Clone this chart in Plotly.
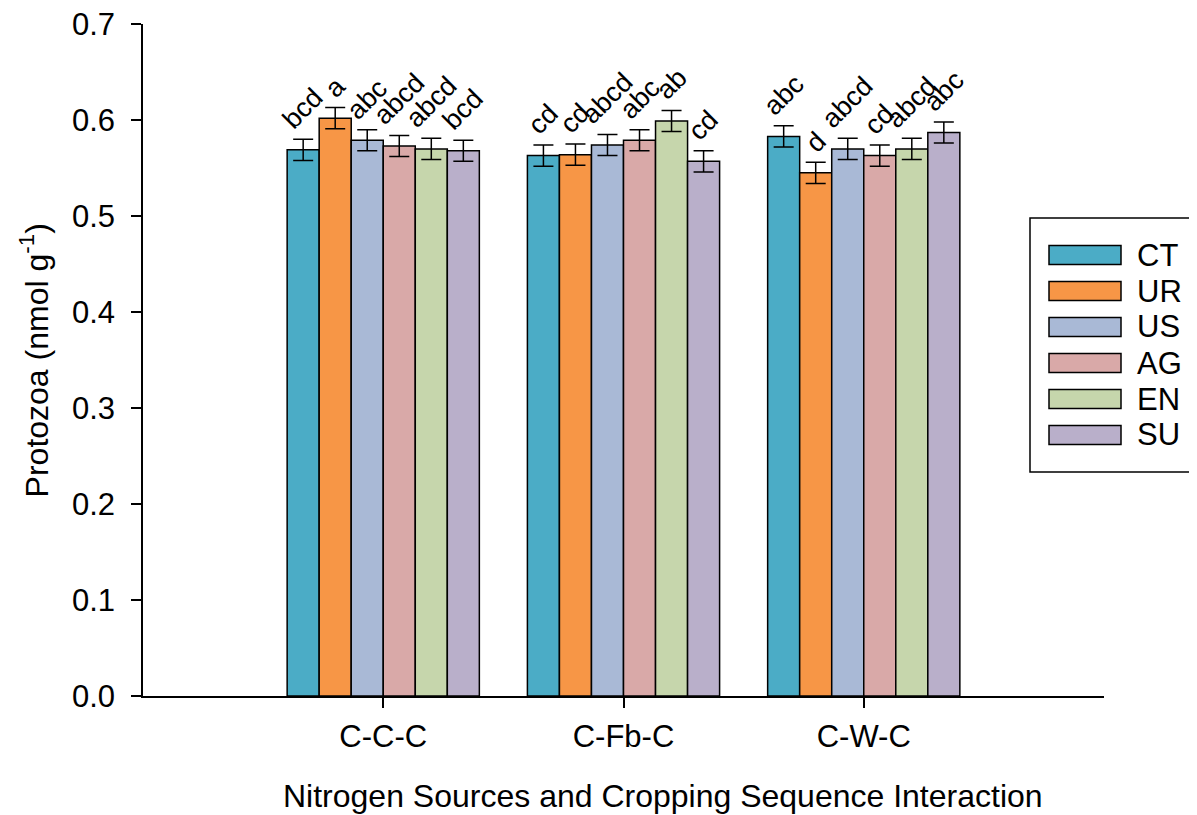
import plotly.graph_objects as go

categories = ["C-C-C", "C-Fb-C", "C-W-C"]
series_names = ["CT", "UR", "US", "AG", "EN", "SU"]
colors = ["#4BACC6", "#F79646", "#A9B9D6", "#D9A9A8", "#C6D6AC", "#B9AFCA"]
y_ticks = [0.0, 0.1, 0.2, 0.3, 0.4, 0.5, 0.6, 0.7]
y_ticktext = ["0.0", "0.1", "0.2", "0.3", "0.4", "0.5", "0.6", "0.7"]

CT = [0.569, 0.563, 0.583]
UR = [0.602, 0.564, 0.545]
US = [0.579, 0.574, 0.570]
AG = [0.573, 0.579, 0.563]
EN = [0.570, 0.599, 0.570]
SU = [0.568, 0.557, 0.587]

CT_err = [0.011, 0.011, 0.011]
UR_err = [0.011, 0.011, 0.011]
US_err = [0.011, 0.011, 0.011]
AG_err = [0.011, 0.011, 0.011]
EN_err = [0.011, 0.011, 0.011]
SU_err = [0.011, 0.011, 0.011]

CT_lbl = ["bcd", "cd", "abc"]
UR_lbl = ["a", "cd", "d"]
US_lbl = ["abc", "abcd", "abcd"]
AG_lbl = ["abcd", "abc", "cd"]
EN_lbl = ["abcd", "ab", "abcd"]
SU_lbl = ["bcd", "cd", "abc"]

values = [CT, UR, US, AG, EN, SU]
errors = [CT_err, UR_err, US_err, AG_err, EN_err, SU_err]
labels = [CT_lbl, UR_lbl, US_lbl, AG_lbl, EN_lbl, SU_lbl]

FONT = "Arial, Liberation Sans, sans-serif"
FS = 31
FS_TITLE = 32
xpos = list(range(len(categories)))

fig = go.Figure()
for name, col, v, e in zip(series_names, colors, values, errors):
    fig.add_trace(go.Bar(
        x=xpos, y=v, name=name,
        marker=dict(color=col, line=dict(color="black", width=1.5)),
        error_y=dict(type="data", array=e, visible=True, color="black",
                     thickness=1.5, width=10),
        showlegend=False,
    ))

n = len(series_names)
group_w = 0.8
annotations = []
for j in range(n):
    for i in range(len(categories)):
        xc = i - group_w / 2 + group_w * (j + 0.5) / n
        annotations.append(dict(
            x=xc, y=values[j][i] + errors[j][i], xref="x", yref="y",
            text=labels[j][i], showarrow=False, textangle=-45,
            xanchor="center", yanchor="bottom", yshift=2,
            font=dict(family=FONT, size=27, color="black"),
        ))

# axis titles
annotations.append(dict(
    x=0.541, y=-0.149, xref="paper", yref="paper",
    text="Nitrogen Sources and Cropping Sequence Interaction",
    showarrow=False, xanchor="center", yanchor="middle",
    font=dict(family=FONT, size=FS_TITLE, color="black"),
))
annotations.append(dict(
    x=-0.113, y=0.5, xref="paper", yref="paper",
    text="Protozoa (nmol g<sup>-1</sup>)", textangle=-90,
    showarrow=False, xanchor="center", yanchor="middle",
    font=dict(family=FONT, size=FS_TITLE, color="black"),
))

# manual legend (coordinates relative to plot area, in window pixels)
shapes = []
px0, py0, pw, ph = 143.0, 696.0, 961.0, 672.0
def fx(px):
    return (px - px0) / pw
def fy(py):
    return (py0 - py) / ph

shapes.append(dict(type="rect", xref="paper", yref="paper",
                   x0=fx(1030), x1=fx(1215), y0=fy(472), y1=fy(218),
                   line=dict(color="black", width=1.5), fillcolor="white", layer="below"))
for k, (name, col) in enumerate(zip(series_names, colors)):
    cy = 255 + 36 * k
    shapes.append(dict(type="rect", xref="paper", yref="paper",
                       x0=fx(1049), x1=fx(1121), y0=fy(cy + 9.5), y1=fy(cy - 9.5),
                       line=dict(color="black", width=1.5), fillcolor=col))
    annotations.append(dict(x=fx(1135), y=fy(cy), xref="paper", yref="paper",
                            text=name, showarrow=False, xanchor="left", yanchor="middle",
                            font=dict(family=FONT, size=FS, color="black")))

# page body has an 8px default margin; compensate so the plot lands where the reference has it
fig.update_layout(
    width=1189, height=807,
    margin=dict(l=135, r=93, t=16, b=119, autoexpand=False),
    plot_bgcolor="white", paper_bgcolor="white",
    barmode="group", bargap=0.2, bargroupgap=0,
    font=dict(family=FONT, size=FS, color="black"),
    annotations=annotations, shapes=shapes,
    xaxis=dict(range=[-1, 3], tickmode="array", tickvals=xpos, ticktext=categories,
               showline=True, linecolor="black", linewidth=1.5,
               ticks="outside", ticklen=10, tickwidth=1.5, tickcolor="black",
               showgrid=False, zeroline=False, ticklabelstandoff=2, automargin=False,
               tickfont=dict(family=FONT, size=FS, color="black")),
    yaxis=dict(range=[0, 0.7001], tickmode="array", tickvals=y_ticks, ticktext=y_ticktext,
               showline=True, linecolor="black", linewidth=1.5,
               ticks="outside", ticklen=10, tickwidth=1.5, tickcolor="black",
               showgrid=False, zeroline=False, ticklabelstandoff=10, automargin=False,
               ticklabeloverflow="allow",
               tickfont=dict(family=FONT, size=FS, color="black")),
)

fig.write_html("out.html")
